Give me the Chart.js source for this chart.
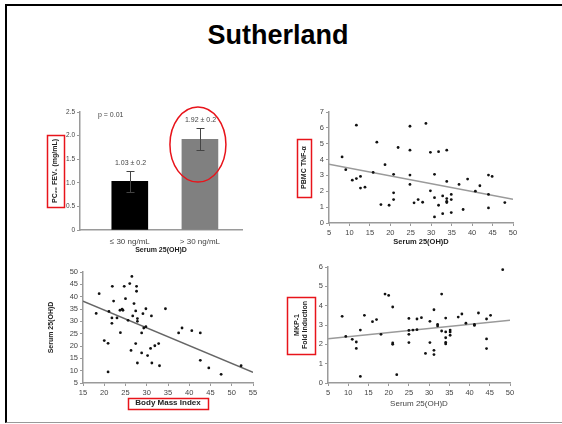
<!DOCTYPE html>
<html>
<head>
<meta charset="utf-8">
<script src="https://cdn.jsdelivr.net/npm/chart.js@4/dist/chart.umd.min.js"></script>
<style>
  body { margin: 0; width: 562px; height: 424px; background: #fff; position: relative; overflow: hidden;
         font-family: "Liberation Sans", Arial, sans-serif; }
  #frame { position: absolute; left: 5px; top: 4px; width: 560px; height: 416px;
           border-left: 2px solid #000; border-top: 2px solid #000; border-bottom: 1px solid #999; }
  h1 { position: absolute; left: 0; width: 556px; top: 19px; margin: 0; text-align: center;
       font-size: 27px; font-weight: bold; line-height: 32px; }
  .panel { position: absolute; }
</style>
</head>
<body>
<div id="frame"></div>
<h1>Sutherland</h1>
<div class="panel" style="left:30px;top:100px"><canvas id="barChart" width="230" height="160"></canvas></div>
<div class="panel" style="left:280px;top:100px"><canvas id="tnfChart" width="250" height="150"></canvas></div>
<div class="panel" style="left:30px;top:262px"><canvas id="bmiChart" width="235" height="150"></canvas></div>
<div class="panel" style="left:280px;top:257px"><canvas id="mkpChart" width="250" height="160"></canvas></div>
<script>
// --- PC20 bar chart ---
const barLabels = ['≤ 30 ng/mL', '> 30 ng/mL'];
const barValues = [1.03, 1.92];
const barErrLow = [0.81, 1.69];
const barErrHigh = [1.25, 2.17];
const barNotes = ['1.03 ± 0.2', '1.92 ± 0.2'];
const barColors = ['#000000', '#808080'];

// --- PBMC TNF-a vs serum 25(OH)D ---
const tnfX = [8.2, 9.1, 11.7, 10.7, 11.7, 12.7, 12.7, 13.8, 15.8, 16.7, 17.7, 18.7, 19.7, 20.8, 20.8, 20.8,
  21.9, 24.8, 24.8, 24.8, 24.8, 25.8, 26.8, 27.9, 28.7, 29.8, 29.8, 30.8, 30.8, 30.8, 31.8, 31.8, 32.8, 32.8,
  33.8, 33.8, 33.8, 33.8, 33.8, 34.9, 34.9, 34.9, 36.8, 37.8, 38.9, 40.8, 41.9, 44, 44, 44, 44.9, 48];
const tnfY = [4.17, 3.36, 6.17, 2.7, 2.8, 2.94, 2.2, 2.26, 3.19, 5.1, 1.16, 3.68, 1.12, 3.07, 1.9, 1.48,
  4.76, 6.1, 4.59, 3.02, 2.43, 1.27, 1.48, 1.31, 6.28, 4.46, 2.03, 3.07, 1.6, 0.38, 4.5, 1.12, 1.71, 0.59,
  4.59, 2.62, 1.54, 1.37, 1.29, 1.8, 1.48, 0.66, 2.43, 0.85, 2.77, 2.01, 2.35, 3.02, 1.8, 0.95, 2.94, 1.29];
const tnfFitX = [5, 50];
const tnfFitY = [3.7, 1.5];

// --- Serum 25(OH)D vs BMI ---
const bmiX = [18.1, 18.8, 20, 20.9, 20.9, 21.1, 21.8, 21.8, 21.9, 22.2, 23, 23.8, 23.7, 24.2, 24.4, 24.7,
  25, 25.6, 26, 26.3, 26.5, 26.7, 27, 27.4, 27.4, 27.6, 27.6, 27.8, 27.8, 27.8, 28.8, 28.8, 29.1, 29.3, 29.8,
  29.8, 30.2, 30.9, 31.1, 31.2, 31.9, 32.8, 33, 34.4, 37.5, 38.3, 40.6, 42.6, 42.6, 44.6, 47.5, 52.2];
const bmiVitD = [33.2, 41.2, 22.2, 21.1, 9.5, 34, 31.4, 29.2, 44.2, 38.2, 31.4, 25.4, 34.5, 34.9, 34.5, 44.2,
  39.2, 30.4, 45.3, 18.2, 48.2, 32.2, 37.2, 21, 34.2, 44.2, 42.2, 31.1, 30, 13.1, 25.3, 17.2, 33.1, 27.3, 35.1,
  27.8, 16.1, 19, 32.2, 13.1, 20.1, 21, 12, 35.1, 25.3, 27.3, 26.2, 25.3, 14.2, 11.1, 8.5, 12];
const bmiFitX = [15, 55];
const bmiFitY = [38.2, 9.3];

// --- MKP-1 fold induction vs serum 25(OH)D ---
const mkpX = [8.5, 9.4, 11, 12, 12, 13, 13, 14, 16, 17, 18.1, 19.1, 20, 21, 21, 21, 22, 25, 25, 25, 25, 26,
  27, 27, 28.1, 29.1, 30.2, 30.2, 31.2, 31.2, 31.2, 32.1, 32.1, 33.1, 33.1, 34.1, 34.1, 34.1, 34.1, 34.1,
  35.2, 35.2, 35.2, 37.2, 38.1, 39.1, 41.2, 41.2, 42.2, 44.2, 44.2, 44.2, 45.2, 48.2];
const mkpY = [3.45, 2.41, 2.26, 2.12, 1.79, 2.74, 0.34, 3.5, 3.17, 3.28, 2.52, 4.6, 4.53, 3.93, 2.07, 2.0, 0.43,
  3.34, 2.72, 2.52, 2.09, 2.74, 3.31, 2.76, 3.38, 1.53, 3.19, 2.09, 3.79, 1.69, 1.47, 3.03, 2.95, 4.6, 2.69,
  3.36, 2.64, 2.34, 2.1, 2.02, 2.74, 2.64, 2.47, 3.41, 3.57, 3.09, 2.98, 3.03, 3.62, 3.31, 2.28, 1.78, 3.5, 5.86];
const mkpFitX = [5, 50];
const mkpFitY = [2.29, 3.24];

const AXIS_GREY = '#9a9a9a';
const FONT = '"Liberation Sans", Arial, sans-serif';

Chart.defaults.font.family = FONT;
Chart.defaults.animation = false;
Chart.defaults.plugins.legend.display = false;
Chart.defaults.plugins.tooltip.enabled = false;

// red rectangle drawn round an axis title
const titleBox = {
  id: 'titleBox',
  afterDraw(chart, args, opts) {
    if (!opts.axis) return;
    const scale = chart.scales[opts.axis];
    const t = scale.options.title;
    const lh = Chart.helpers.toFont(t.font).lineHeight;
    const pad = Chart.helpers.toPadding(t.padding);
    const n = Array.isArray(t.text) ? t.text.length : 1;
    let cx, cy;
    if (scale.isHorizontal()) {
      cx = (scale.left + scale.right) / 2;
      cy = scale.bottom - pad.bottom - lh / 2 - (n - 1) * lh / 2;
    } else {
      cx = scale.left + pad.top + lh / 2 + (n - 1) * lh / 2;
      cy = (scale.top + scale.bottom) / 2;
    }
    const ctx = chart.ctx;
    ctx.save();
    ctx.strokeStyle = '#e8141b';
    ctx.lineWidth = 1.5;
    ctx.strokeRect(Math.round(cx - opts.w / 2) + 0.5, Math.round(cy - opts.h / 2) + 0.5, opts.w, opts.h);
    ctx.restore();
  }
};

function fixedSize(w, h) {
  return (scale) => {
    if (w !== undefined) scale.width = w;
    if (h !== undefined) scale.height = h;
  };
}

function axisStyle(extra) {
  return Object.assign({
    border: { color: AXIS_GREY, width: 1.5 },
    grid: { drawOnChartArea: false, color: AXIS_GREY, tickLength: 3, lineWidth: 1 },
  }, extra);
}

// bar chart: error bars, value notes, p-value and the red ellipse
const barExtras = {
  id: 'barExtras',
  afterDatasetsDraw(chart) {
    const { ctx, scales: { x, y }, chartArea } = chart;
    ctx.save();
    ctx.strokeStyle = '#444';
    ctx.lineWidth = 1;
    ctx.fillStyle = '#444';
    ctx.font = '7px ' + FONT;
    ctx.textAlign = 'center';
    ctx.textBaseline = 'bottom';
    barValues.forEach((v, i) => {
      const px = Math.round(x.getPixelForValue(i + 1)) + 0.5;
      const hi = Math.round(y.getPixelForValue(barErrHigh[i])) + 0.5;
      const lo = Math.round(y.getPixelForValue(barErrLow[i])) + 0.5;
      ctx.beginPath();
      ctx.moveTo(px, lo); ctx.lineTo(px, hi);
      ctx.moveTo(px - 4, hi); ctx.lineTo(px + 4, hi);
      ctx.moveTo(px - 4, lo); ctx.lineTo(px + 4, lo);
      ctx.stroke();
      ctx.fillText(barNotes[i], px, hi - 5);
    });
    ctx.textAlign = 'left';
    ctx.textBaseline = 'middle';
    ctx.fillText('p = 0.01', chartArea.left + 18, chartArea.top + 3);
    // highlight ellipse round the second bar
    ctx.strokeStyle = '#e8141b';
    ctx.lineWidth = 1.5;
    ctx.beginPath();
    ctx.ellipse(x.getPixelForValue(2) - 2, y.getPixelForValue(1.81), 28, 37.5, 0, 0, Math.PI * 2);
    ctx.stroke();
    ctx.restore();
  }
};

new Chart(document.getElementById('barChart'), {
  type: 'bar',
  data: {
    datasets: [{
      data: barValues.map((v, i) => ({ x: i + 1, y: v })),
      backgroundColor: barColors,
      barThickness: 36
    }]
  },
  options: {
    responsive: false,
    layout: { padding: { top: 12, right: 18, left: 0, bottom: 0 } },
    scales: {
      x: axisStyle({
        type: 'linear', min: 0.29, max: 2.6, offset: false,
        afterFit: fixedSize(undefined, 30),
        afterBuildTicks: (s) => { s.ticks = barLabels.map((_, i) => ({ value: i + 1 })); },
        grid: { display: false },
        ticks: { callback: (v) => barLabels[v - 1], font: { size: 8 }, color: '#444', padding: -1, maxRotation: 0 },
        title: { display: true, text: 'Serum 25(OH)D', font: { size: 7, weight: 'bold' }, color: '#222',
                 padding: { top: 0, bottom: 5.5 } }
      }),
      y: axisStyle({
        min: 0, max: 2.5,
        afterFit: fixedSize(50, undefined),
        ticks: { stepSize: 0.5, font: { size: 6.5 }, color: '#444', padding: 2 },
        title: { display: true, text: 'PC₂₀ FEV₁ (mg/mL)', font: { size: 7, weight: 'bold' }, color: '#222',
                 padding: { top: 21, bottom: 0 } }
      })
    },
    plugins: { titleBox: { axis: 'y', w: 17, h: 72 } }
  },
  plugins: [barExtras, titleBox]
});

function scatterChart(id, xs, ys, fitX, fitY, o) {
  return new Chart(document.getElementById(id), {
    type: 'scatter',
    data: {
      datasets: [
        { data: xs.map((x, i) => ({ x, y: ys[i] })), backgroundColor: '#111', borderColor: '#111',
          pointRadius: 1.4, borderWidth: 0 },
        { type: 'line', data: fitX.map((x, i) => ({ x, y: fitY[i] })), borderColor: o.fitColor || '#9a9a9a',
          borderWidth: 1.5, pointRadius: 0, fill: false }
      ]
    },
    options: {
      responsive: false,
      layout: { padding: { top: o.padTop, right: o.padRight, left: 0, bottom: 0 } },
      scales: {
        x: axisStyle({
          type: 'linear', min: o.xMin, max: o.xMax,
          afterFit: fixedSize(undefined, o.xHeight),
          ticks: { stepSize: 5, font: { size: 7.5 }, color: '#444', padding: 2, maxRotation: 0 },
          title: Object.assign({ display: true, color: '#222' }, o.xTitle)
        }),
        y: axisStyle({
          min: o.yMin, max: o.yMax,
          afterFit: fixedSize(o.yWidth, undefined),
          ticks: { stepSize: o.yStep, font: { size: 7.5 }, color: '#444', padding: 2 },
          title: Object.assign({ display: true, color: '#222' }, o.yTitle)
        })
      },
      plugins: { titleBox: o.box }
    },
    plugins: [titleBox]
  });
}

scatterChart('tnfChart', tnfX, tnfY, tnfFitX, tnfFitY, {
  padTop: 12, padRight: 17, xHeight: 27, yWidth: 49,
  xMin: 5, xMax: 50, yMin: 0, yMax: 7, yStep: 1,
  xTitle: { text: 'Serum 25(OH)D', font: { size: 7.5, weight: 'bold' }, padding: { top: 0, bottom: 3.5 } },
  yTitle: { text: 'PBMC TNF-α', font: { size: 7, weight: 'bold' }, padding: { top: 20, bottom: 0 } },
  box: { axis: 'y', w: 14, h: 58 }
});

scatterChart('bmiChart', bmiX, bmiVitD, bmiFitX, bmiFitY, {
  padTop: 10, padRight: 12, xHeight: 29, yWidth: 53, fitColor: '#666',
  xMin: 15, xMax: 55, yMin: 5, yMax: 50, yStep: 5,
  xTitle: { text: 'Body Mass Index', font: { size: 8, weight: 'bold' }, padding: { top: 0, bottom: 4.2 } },
  yTitle: { text: 'Serum 25(OH)D', font: { size: 7, weight: 'bold' }, padding: { top: 17, bottom: 0 } },
  box: { axis: 'x', w: 80, h: 11 }
});

scatterChart('mkpChart', mkpX, mkpY, mkpFitX, mkpFitY, {
  padTop: 10, padRight: 20, xHeight: 34, yWidth: 48,
  xMin: 5, xMax: 50, yMin: 0, yMax: 6, yStep: 1,
  xTitle: { text: 'Serum 25(OH)D', font: { size: 8 }, color: '#444', padding: { top: 0, bottom: 8.2 } },
  yTitle: { text: ['MKP-1', 'Fold Induction'], font: { size: 7, weight: 'bold' }, padding: { top: 12.5, bottom: 0 } },
  box: { axis: 'y', w: 28, h: 57 }
});
</script>
</body>
</html>
